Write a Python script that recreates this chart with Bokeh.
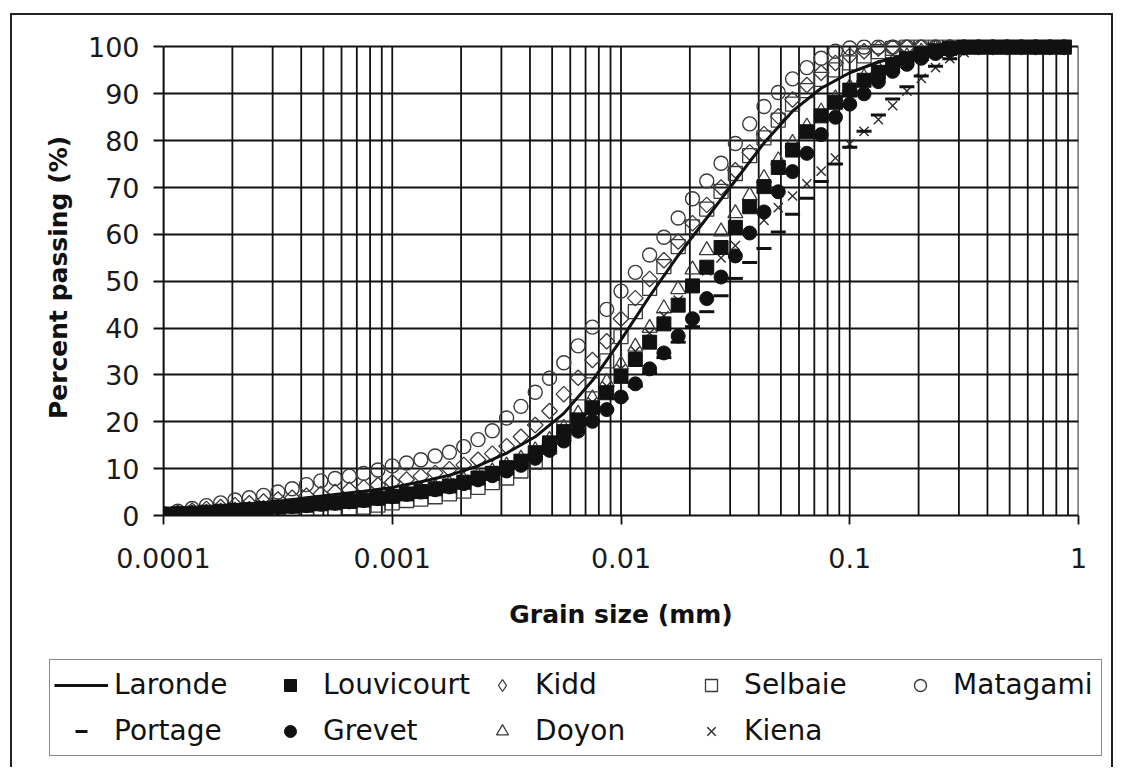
from bokeh.plotting import figure
from bokeh.models import Range1d, FixedTicker, CustomJSTickFormatter, Legend, LegendItem
from bokeh.embed import file_html
from bokeh.resources import INLINE

# ---------------- data ----------------
GRAIN_SIZE_MM = [
    0.0001, 0.0001155, 0.0001334, 0.000154, 0.0001778, 0.0002054, 0.0002371, 0.0002738,
    0.0003162, 0.0003652, 0.0004217, 0.000487, 0.0005623, 0.0006494, 0.0007499, 0.000866,
    0.001, 0.001155, 0.001334, 0.00154, 0.001778, 0.002054, 0.002371, 0.002738,
    0.003162, 0.003652, 0.004217, 0.00487, 0.005623, 0.006494, 0.007499, 0.00866,
    0.01, 0.01155, 0.01334, 0.0154, 0.01778, 0.02054, 0.02371, 0.02738,
    0.03162, 0.03652, 0.04217, 0.0487, 0.05623, 0.06494, 0.07499, 0.0866,
    0.1, 0.1155, 0.1334, 0.154, 0.1778, 0.2054, 0.2371, 0.2738,
    0.3162, 0.3652, 0.4217, 0.487, 0.5623, 0.6494, 0.7499, 0.866,
]

LARONDE_SIZE_MM = [
    0.0001, 0.0001334, 0.0001778, 0.0002371, 0.0003162, 0.0004217, 0.0005623, 0.0007499,
    0.001, 0.001334, 0.001778, 0.002371, 0.003162, 0.004217, 0.005623, 0.007499,
    0.01, 0.01334, 0.01778, 0.02371, 0.03162, 0.04217, 0.05623, 0.07499,
    0.1, 0.1334, 0.1778, 0.2371, 0.3162, 0.4217, 0.5623, 0.7499, 0.866,
]
LARONDE = [
    0.5, 1.0, 1.6, 2.3, 3.0, 3.8, 4.5, 5.2,
    6.0, 7.2, 8.6, 10.6, 13.3, 16.8, 21.8, 28.8,
    37.5, 46.8, 55.5, 63.5, 71.5, 79.5, 86.3, 91.2,
    94.5, 96.8, 98.4, 99.4, 100, 100, 100, 100, 100,
]

LOUVICOURT = [
    0.3, 0.4, 0.5, 0.7, 0.9, 1.1, 1.3, 1.5, 1.8, 2.0, 2.2, 2.5, 2.7, 3.0, 3.3, 3.7,
    4.1, 4.6, 5.1, 5.7, 6.3, 7.1, 8.0, 9.0, 10.2, 11.6, 13.4, 15.5, 17.9, 20.4, 23.0, 26.2,
    29.7, 33.3, 37.0, 40.9, 44.9, 49.0, 53.0, 57.2, 61.5, 65.9, 70.2, 74.3, 78.0, 81.9, 85.3, 88.2,
    90.8, 92.9, 94.6, 96.2, 97.5, 98.5, 99.2, 99.7, 100, 100, 100, 100, 100, 100, 100, 100,
]
KIDD = [
    0.3, 0.6, 1.0, 1.4, 1.8, 2.2, 2.6, 3.0, 3.4, 3.8, 4.2, 4.6, 5.0, 5.5, 6.0, 6.5,
    7.1, 7.7, 8.4, 9.1, 9.9, 10.8, 11.9, 13.2, 14.8, 16.8, 19.3, 22.3, 25.9, 29.4, 33.2, 37.2,
    42.0, 46.4, 50.5, 54.5, 58.5, 62.4, 66.3, 70.0, 73.7, 77.5, 81.4, 85.2, 88.8, 91.9, 94.5, 96.6,
    98.1, 99.1, 99.7, 100, 100, 100, 100, 100, 100, 100, 100, 100, 100, 100, 100, 100,
]
SELBAIE = [
    0.0, 0.0, 0.0, 0.0, 0.0, 0.0, 0.1, 0.1, 0.1, 0.3, 0.6, 1.0, 1.4, 1.6, 1.8, 2.2,
    2.7, 3.2, 3.5, 4.0, 4.6, 5.2, 6.0, 7.0, 8.0, 9.5, 11.4, 14.6, 18.6, 23.2, 27.9, 33.0,
    38.2, 43.5, 48.5, 53.1, 57.4, 61.6, 65.4, 69.2, 73.0, 76.8, 80.6, 84.4, 87.8, 90.7, 93.1, 95.1,
    96.6, 98.1, 99.0, 99.7, 100, 100, 100, 100, 100, 100, 100, 100, 100, 100, 100, 100,
]
MATAGAMI = [
    0.4, 0.9, 1.5, 2.1, 2.7, 3.3, 3.8, 4.3, 5.0, 5.7, 6.6, 7.4, 7.9, 8.4, 9.0, 9.7,
    10.6, 11.2, 11.9, 12.7, 13.5, 14.7, 16.2, 18.1, 20.8, 23.3, 26.3, 29.3, 32.6, 36.2, 40.2, 44.0,
    47.9, 51.9, 55.6, 59.4, 63.5, 67.6, 71.4, 75.2, 79.4, 83.6, 87.3, 90.3, 93.2, 95.6, 97.6, 99.1,
    99.8, 100, 100, 100, 100, 100, 100, 100, 100, 100, 100, 100, 100, 100, 100, 100,
]
PORTAGE = [
    0.2, 0.3, 0.4, 0.6, 0.8, 1.0, 1.2, 1.4, 1.7, 2.0, 2.2, 2.5, 2.8, 3.1, 3.4, 3.8,
    4.2, 4.7, 5.2, 5.8, 6.4, 7.1, 7.9, 8.8, 9.8, 11.0, 12.5, 14.2, 16.1, 18.2, 20.3, 22.6,
    25.0, 27.6, 30.5, 33.7, 37.0, 40.3, 43.5, 46.9, 50.6, 54.0, 57.0, 60.5, 64.3, 67.7, 71.3, 75.0,
    78.6, 82.0, 85.5, 88.9, 91.5, 93.8, 95.9, 97.5, 98.8, 99.6, 100, 100, 100, 100, 100, 100,
]
GREVET = [
    0.2, 0.3, 0.5, 0.6, 0.8, 1.0, 1.2, 1.4, 1.7, 1.9, 2.1, 2.4, 2.6, 2.9, 3.2, 3.6,
    4.0, 4.5, 5.0, 5.5, 6.1, 6.8, 7.6, 8.5, 9.5, 10.7, 12.2, 13.9, 15.9, 18.0, 20.1, 22.6,
    25.3, 28.1, 31.3, 34.7, 38.3, 42.0, 46.3, 50.9, 55.4, 60.3, 64.8, 69.1, 73.4, 77.3, 81.3, 85.0,
    87.8, 90.0, 92.6, 94.8, 96.3, 97.6, 98.6, 99.3, 99.8, 100, 100, 100, 100, 100, 100, 100,
]
DOYON = [
    0.2, 0.3, 0.4, 0.6, 0.8, 1.0, 1.2, 1.4, 1.6, 1.8, 2.1, 2.4, 2.7, 3.0, 3.4, 3.8,
    4.3, 4.8, 5.4, 6.0, 6.7, 7.5, 8.4, 9.4, 10.6, 12.1, 13.9, 16.1, 18.7, 21.7, 25.0, 28.5,
    32.2, 36.0, 40.0, 44.2, 48.3, 52.5, 56.6, 60.6, 64.5, 68.3, 72.0, 75.8, 79.5, 83.0, 86.2, 89.0,
    91.4, 93.5, 95.3, 96.8, 98.0, 99.0, 99.6, 100, 100, 100, 100, 100, 100, 100, 100, 100,
]
KIENA = [
    0.2, 0.3, 0.5, 0.7, 0.9, 1.1, 1.3, 1.6, 1.9, 2.2, 2.5, 2.8, 3.1, 3.4, 3.8, 4.2,
    4.6, 5.1, 5.6, 6.2, 6.9, 7.7, 8.6, 9.6, 10.7, 12.1, 13.8, 15.8, 18.2, 21.0, 24.2, 27.6,
    31.3, 35.1, 38.9, 42.6, 46.0, 49.2, 52.2, 55.0, 57.6, 60.3, 63.0, 65.7, 68.2, 70.8, 73.5, 76.3,
    79.3, 82.0, 84.5, 87.5, 90.6, 93.3, 95.6, 97.5, 98.8, 99.6, 100, 100, 100, 100, 100, 100,
]

X_TICKS = [0.0001, 0.001, 0.01, 0.1, 1]
X_TICK_LABELS = ["0.0001", "0.001", "0.01", "0.1", "1"]
X_MINOR_TICKS = [m * 10.0 ** e for e in range(-4, 0) for m in range(2, 10)]
Y_TICKS = [0, 10, 20, 30, 40, 50, 60, 70, 80, 90, 100]

FONT = "DejaVu Sans"
INK = "#111111"
OPEN = "#3a3a3a"

# ---------------- main figure ----------------
p = figure(
    width=1103, height=645,
    x_axis_type="log",
    x_range=Range1d(0.0001, 1), y_range=Range1d(0, 101.6),
    output_backend="svg", toolbar_location=None,
    min_border_left=151, min_border_right=37, min_border_top=24, min_border_bottom=145,
)
p.outline_line_color = None
p.background_fill_color = "white"
p.border_fill_color = "white"
p.styles = {"margin-left": "10px", "margin-top": "13px",
            "border-top": "2px solid #222", "border-left": "2px solid #222",
            "border-right": "2px solid #222"}

# grid
p.xgrid.visible = False
p.ygrid.ticker = FixedTicker(ticks=Y_TICKS)
p.ygrid.grid_line_color = INK
p.ygrid.grid_line_width = 1.8

grid_x = sorted(X_TICKS + X_MINOR_TICKS)
p.segment(x0=grid_x, y0=[Y_TICKS[0]] * len(grid_x), x1=grid_x, y1=[Y_TICKS[-1]] * len(grid_x),
          line_color=INK, line_width=1.8)

# axes
xa = p.xaxis[0]
xa.ticker = FixedTicker(ticks=X_TICKS, minor_ticks=X_MINOR_TICKS)
xa.formatter = CustomJSTickFormatter(args=dict(tick_vals=X_TICKS, tick_labels=X_TICK_LABELS), code="""
for (let i = 0; i < tick_vals.length; i++) {
  if (Math.abs(Math.log10(tick) - Math.log10(tick_vals[i])) < 1e-6) return tick_labels[i];
}
return "";
""")
xa.major_tick_out = 9
xa.major_tick_in = 0
xa.minor_tick_line_color = None
xa.axis_line_color = INK
xa.axis_line_width = 1.8
xa.major_tick_line_color = INK
xa.major_tick_line_width = 1.8
xa.major_label_text_font = FONT
xa.major_label_text_font_size = "27px"
xa.major_label_text_color = "#1a1a1a"
xa.major_label_standoff = 23
xa.axis_label = "Grain size (mm)"
xa.axis_label_text_font = FONT
xa.axis_label_text_font_size = "25px"
xa.axis_label_text_font_style = "bold"
xa.axis_label_text_color = INK
xa.axis_label_standoff = 29

ya = p.yaxis[0]
ya.ticker = FixedTicker(ticks=Y_TICKS)
ya.bounds = (Y_TICKS[0], Y_TICKS[-1])
ya.major_tick_out = 10
ya.major_tick_in = 0
ya.minor_tick_line_color = None
ya.axis_line_color = INK
ya.axis_line_width = 1.8
ya.major_tick_line_color = INK
ya.major_tick_line_width = 1.8
ya.major_label_text_font = FONT
ya.major_label_text_font_size = "27px"
ya.major_label_text_color = "#1a1a1a"
ya.major_label_standoff = 14
ya.axis_label = "Percent passing (%)"
ya.axis_label_text_font = FONT
ya.axis_label_text_font_size = "25px"
ya.axis_label_text_font_style = "bold"
ya.axis_label_text_color = INK
ya.axis_label_standoff = 12

# ---------------- series ----------------
STYLES = {
    "Matagami": dict(marker="circle", size=14, fill_color=None, line_color=OPEN, line_width=1.4),
    "Kidd": dict(marker="square", angle=0.7854, size=11, fill_color=None, line_color=OPEN, line_width=1.3),
    "Selbaie": dict(marker="square", size=14, fill_color=None, line_color=OPEN, line_width=1.3),
    "Doyon": dict(marker="triangle", size=15, fill_color=None, line_color=OPEN, line_width=1.3),
    "Kiena": dict(marker="x", size=13, line_color="#2a2a2a", line_width=1.4),
    "Portage": dict(marker="dash", size=15, line_color=INK, line_width=3),
    "Grevet": dict(marker="circle", size=14, fill_color=INK, line_color=INK, line_width=1),
    "Louvicourt": dict(marker="square", size=14, fill_color=INK, line_color=INK, line_width=1),
}
SERIES = [
    ("Matagami", MATAGAMI), ("Kidd", KIDD), ("Selbaie", SELBAIE), ("Doyon", DOYON),
    ("Kiena", KIENA), ("Portage", PORTAGE), ("Grevet", GREVET), ("Louvicourt", LOUVICOURT),
]
for name, ys in SERIES:
    p.scatter(GRAIN_SIZE_MM, ys, **STYLES[name])
p.line(LARONDE_SIZE_MM, LARONDE, line_color=INK, line_width=3)

# ---------------- legend strip (separate root, proxies kept out of view) ----------------
leg = figure(width=1103, height=109, output_backend="svg", toolbar_location=None,
             x_axis_location=None, y_axis_location=None, min_border=0,
             x_range=Range1d(10, 11), y_range=Range1d(1000, 1001))
leg.outline_line_color = None
leg.grid.visible = False
leg.background_fill_color = "white"
leg.border_fill_color = "white"
leg.styles = {"margin-left": "10px",
              "border-left": "2px solid #222", "border-right": "2px solid #222"}

LEGEND_STYLES = dict(STYLES)
LEGEND_STYLES["Kidd"] = dict(marker="diamond", size=14, fill_color=None, line_color=OPEN, line_width=1.3)

proxy = {"Laronde": leg.line(LARONDE_SIZE_MM[:2], LARONDE[:2], line_color=INK, line_width=3)}
for name, ys in SERIES:
    proxy[name] = leg.scatter(GRAIN_SIZE_MM[:1], ys[:1], **LEGEND_STYLES[name])

LEGEND_ORDER = ["Laronde", "Louvicourt", "Kidd", "Selbaie", "Matagami",
                "Portage", "Grevet", "Doyon", "Kiena"]
legend = Legend(
    items=[LegendItem(label=n, renderers=[proxy[n]]) for n in LEGEND_ORDER],
    location=(37, 11),
    orientation="horizontal",
    ncols=5,
    label_text_font=FONT,
    label_text_font_size="28px",
    label_text_color=INK,
    label_standoff=6,
    glyph_width=54,
    glyph_height=30,
    label_width=144,
    label_height=41,
    spacing=5,
    padding=4,
    margin=0,
    border_line_color=INK,
    border_line_width=1.5,
    background_fill_color="white",
    background_fill_alpha=1.0,
)
leg.add_layout(legend, "center")

open("out.html", "w").write(file_html([p, leg], INLINE))
